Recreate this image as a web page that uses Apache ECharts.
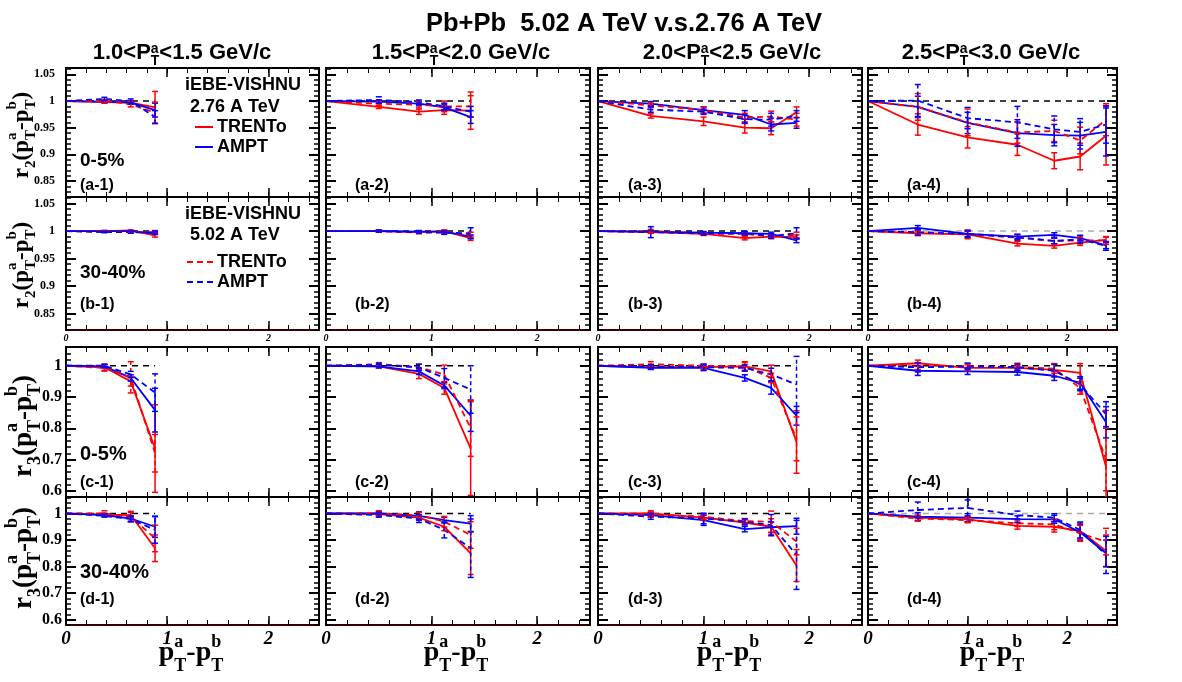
<!DOCTYPE html>
<html>
<head>
<meta charset="utf-8">
<script src="https://cdn.jsdelivr.net/npm/echarts@6/dist/echarts.min.js"></script>
<style>
  html, body { margin: 0; padding: 0; background: #fff; }
  #main { width: 1182px; height: 682px; }
</style>
</head>
<body>
<div id="main"></div>
<script>
// x positions (pT^a - pT^b) for each pT^a bin (columns)
const xCols = [
  [0, 0.38, 0.64, 0.88],
  [0, 0.5, 0.88, 1.12, 1.37],
  [0, 0.5, 1.0, 1.39, 1.64, 1.88],
  [0, 0.5, 1.0, 1.5, 1.87, 2.13, 2.39]
];
const ptBins = [['1.0', '1.5'], ['1.5', '2.0'], ['2.0', '2.5'], ['2.5', '3.0']];
const xTicks = [0, 1, 2];
const r2Ticks = [0.85, 0.9, 0.95, 1, 1.05];
const r3Ticks = [0.6, 0.7, 0.8, 0.9, 1];
const centralities = ['0-5%', '30-40%', '0-5%', '30-40%'];

// row a : r2, 0-5%
const a_trento276 = [[1, 0.998, 0.997, 0.988], [1, 0.989, 0.980, 0.983, 0.982], [1, 0.972, 0.962, 0.950, 0.949, 0.979], [1, 0.956, 0.932, 0.918, 0.888, 0.896, 0.935]];
const a_ampt276   = [[1, 0.999, 0.997, 0.983], [1, 0.999, 0.995, 0.988, 0.970], [1, 0.995, 0.983, 0.974, 0.956, 0.959], [1, 0.989, 0.959, 0.940, 0.936, 0.935, 0.942]];
const a_trento502 = [[1, 1.0, 0.994, 0.978], [1, 0.995, 0.993, 0.990, 0.990], [1, 0.992, 0.983, 0.969, 0.971, 0.965], [1, 0.989, 0.960, 0.941, 0.944, 0.926, 0.965]];
const a_ampt502   = [[1, 1.004, 1.0, 0.970], [1, 1.002, 0.998, 0.990, 0.980], [1, 0.984, 0.980, 0.966, 0.965, 0.972], [1, 1.001, 0.968, 0.960, 0.947, 0.942, 0.956]];
const a_trento276_err = [[0, 0.002, 0.003, 0.03], [0, 0.003, 0.005, 0.008, 0.035], [0, 0.004, 0.008, 0.01, 0.012, 0.01], [0, 0.02, 0.02, 0.02, 0.015, 0.025, 0.055]];
const a_ampt276_err   = [[0, 0.002, 0.003, 0.013], [0, 0.003, 0.004, 0.006, 0.012], [0, 0.004, 0.006, 0.008, 0.012, 0.01], [0, 0.02, 0.02, 0.025, 0.02, 0.025, 0.045]];
const a_trento502_err = [[0, 0.003, 0.005, 0.02], [0, 0.004, 0.006, 0.01, 0.02], [0, 0.004, 0.006, 0.008, 0.01, 0.012], [0, 0.025, 0.025, 0.02, 0.02, 0.025, 0.03]];
const a_ampt502_err   = [[0, 0.003, 0.004, 0.012], [0, 0.006, 0.004, 0.006, 0.01], [0, 0.005, 0.005, 0.008, 0.012, 0.01], [0, 0.03, 0.02, 0.03, 0.025, 0.025, 0.035]];

// row b : r2, 30-40%
const b_trento276 = [[1, 1.0, 1.001, 0.992], [1, 1.0, 0.998, 1.0, 0.987], [1, 0.998, 0.995, 0.987, 0.990, 0.989], [1, 0.996, 0.994, 0.977, 0.973, 0.979, 0.984]];
const b_ampt276   = [[1, 1.0, 1.0, 0.996], [1, 1.0, 0.999, 0.999, 0.990], [1, 0.999, 0.997, 0.996, 0.995, 0.983], [1, 1.006, 0.995, 0.990, 0.993, 0.987, 0.974]];
const b_trento502 = [[1, 0.999, 0.999, 0.998], [1, 1.0, 0.997, 0.998, 0.993], [1, 1.0, 0.995, 0.995, 0.990, 0.993], [1, 0.997, 0.994, 0.988, 0.982, 0.983, 0.983]];
const b_ampt502   = [[1, 0.998, 0.998, 0.997], [1, 1.0, 0.998, 0.997, 0.996], [1, 0.998, 0.996, 0.996, 0.991, 0.996], [1, 0.998, 0.995, 0.989, 0.982, 0.985, 0.973]];
const b_trento276_err = [[0, 0.001, 0.001, 0.003], [0, 0.001, 0.002, 0.002, 0.004], [0, 0.002, 0.002, 0.003, 0.003, 0.004], [0, 0.004, 0.006, 0.004, 0.004, 0.005, 0.005]];
const b_ampt276_err   = [[0, 0.001, 0.001, 0.002], [0, 0.001, 0.002, 0.002, 0.003], [0, 0.002, 0.002, 0.003, 0.003, 0.004], [0, 0.004, 0.005, 0.004, 0.004, 0.005, 0.006]];
const b_trento502_err = [[0, 0.001, 0.002, 0.003], [0, 0.002, 0.002, 0.003, 0.005], [0, 0.003, 0.003, 0.003, 0.004, 0.005], [0, 0.005, 0.008, 0.005, 0.005, 0.006, 0.007]];
const b_ampt502_err   = [[0, 0.001, 0.002, 0.003], [0, 0.002, 0.002, 0.003, 0.01], [0, 0.01, 0.003, 0.003, 0.004, 0.01], [0, 0.005, 0.006, 0.005, 0.005, 0.007, 0.008]];

// row c : r3, 0-5%
const c_trento276 = [[1, 0.995, 0.950, 0.735], [1, 0.998, 0.974, 0.929, 0.735], [1, 0.995, 0.996, 0.998, 0.982, 0.756], [1, 1.008, 0.993, 0.993, 0.987, 0.977, 0.677]];
const c_ampt276   = [[1, 0.998, 0.961, 0.858], [1, 0.998, 0.982, 0.937, 0.840], [1, 0.993, 0.993, 0.961, 0.929, 0.840], [1, 0.984, 0.982, 0.980, 0.968, 0.945, 0.819]];
const c_trento502 = [[1, 0.993, 0.963, 0.72], [1, 1.005, 0.995, 0.972, 0.80], [1, 1.005, 1.0, 0.998, 0.961, 0.766], [1, 0.998, 0.998, 0.996, 0.991, 0.929, 0.70]];
const c_ampt502   = [[1, 1.0, 0.972, 0.914], [1, 1.003, 0.995, 0.961, 0.924], [1, 0.998, 0.995, 0.993, 0.972, 0.940], [1, 0.995, 0.998, 0.995, 0.984, 0.940, 0.845]];
const c_trento276_err = [[0, 0.01, 0.015, 0.14], [0, 0.005, 0.015, 0.02, 0.15], [0, 0.005, 0.006, 0.015, 0.02, 0.1], [0, 0.01, 0.01, 0.008, 0.02, 0.03, 0.18]];
const c_ampt276_err   = [[0, 0.005, 0.01, 0.07], [0, 0.005, 0.01, 0.01, 0.05], [0, 0.005, 0.008, 0.01, 0.02, 0.03], [0, 0.015, 0.01, 0.01, 0.015, 0.02, 0.05]];
const c_trento502_err = [[0, 0.01, 0.05, 0.06], [0, 0.005, 0.01, 0.03, 0.09], [0, 0.008, 0.005, 0.012, 0.015, 0.07], [0, 0.01, 0.01, 0.012, 0.015, 0.02, 0.1]];
const c_ampt502_err   = [[0, 0.005, 0.01, 0.06], [0, 0.005, 0.01, 0.03, 0.076], [0, 0.005, 0.01, 0.01, 0.02, 0.09], [0, 0.015, 0.01, 0.01, 0.02, 0.02, 0.04]];

// row d : r3, 30-40%
const d_trento276 = [[1, 0.996, 0.994, 0.869], [1, 0.998, 0.984, 0.950, 0.850], [1, 1.0, 0.984, 0.966, 0.950, 0.804], [1, 0.984, 0.978, 0.953, 0.950, 0.934, 0.859]];
const d_ampt276   = [[1, 0.994, 0.981, 0.950], [1, 1.0, 0.991, 0.975, 0.962], [1, 0.994, 0.975, 0.941, 0.948, 0.952], [1, 0.988, 0.984, 0.979, 0.978, 0.929, 0.850]];
const d_trento502 = [[1, 1.0, 0.988, 0.906], [1, 1.0, 0.994, 0.969, 0.919], [1, 0.996, 0.988, 0.971, 0.969, 0.894], [1, 0.981, 0.975, 0.963, 0.959, 0.925, 0.894]];
const d_ampt502   = [[1, 0.991, 0.979, 0.938], [1, 0.994, 0.981, 0.938, 0.869], [1, 0.988, 0.981, 0.969, 0.956, 0.844], [1, 1.013, 1.021, 0.994, 0.984, 0.938, 0.844]];
const d_trento276_err = [[0, 0.005, 0.01, 0.05], [0, 0.006, 0.01, 0.015, 0.08], [0, 0.01, 0.01, 0.01, 0.03, 0.06], [0, 0.01, 0.01, 0.012, 0.02, 0.03, 0.06]];
const d_ampt276_err   = [[0, 0.005, 0.01, 0.04], [0, 0.008, 0.015, 0.01, 0.03], [0, 0.008, 0.02, 0.01, 0.02, 0.03], [0, 0.015, 0.015, 0.012, 0.015, 0.03, 0.05]];
const d_trento502_err = [[0, 0.01, 0.02, 0.05], [0, 0.01, 0.01, 0.02, 0.05], [0, 0.01, 0.01, 0.01, 0.04, 0.05], [0, 0.01, 0.01, 0.012, 0.02, 0.03, 0.05]];
const d_ampt502_err   = [[0, 0.005, 0.01, 0.05], [0, 0.008, 0.015, 0.03, 0.11], [0, 0.01, 0.02, 0.01, 0.04, 0.13], [0, 0.03, 0.03, 0.015, 0.015, 0.03, 0.07]];

const rowSeries = [
  [a_trento276, a_ampt276, a_trento502, a_ampt502],
  [b_trento276, b_ampt276, b_trento502, b_ampt502],
  [c_trento276, c_ampt276, c_trento502, c_ampt502],
  [d_trento276, d_ampt276, d_trento502, d_ampt502]
];
const rowErrors = [
  [a_trento276_err, a_ampt276_err, a_trento502_err, a_ampt502_err],
  [b_trento276_err, b_ampt276_err, b_trento502_err, b_ampt502_err],
  [c_trento276_err, c_ampt276_err, c_trento502_err, c_ampt502_err],
  [d_trento276_err, d_ampt276_err, d_trento502_err, d_ampt502_err]
];

// layout
const SANS = '"Liberation Sans", Arial, sans-serif';
const SERIF = '"Liberation Serif", "Times New Roman", serif';
const colLeft = [66, 326, 598, 868];
const colWidth = [253, 264, 264, 249];
const rowTop = [68, 197, 347, 497];
const rowHeight = [129, 133, 150, 128];
const yMin = [0.82, 0.82, 0.58, 0.58];
const yMax = [1.062, 1.062, 1.06, 1.062];
const minorStep = [0.01, 0.01, 0.02, 0.02];
const xMax = 2.5;
const styles = [
  { color: '#ff0000', dash: 'solid' },
  { color: '#0000ff', dash: 'solid' },
  { color: '#ff0000', dash: [6, 4] },
  { color: '#0000ff', dash: [6, 4] }
];

function errItem(st) {
  return function (params, api) {
    const p0 = api.coord([api.value(0), api.value(1)]);
    const p1 = api.coord([api.value(0), api.value(2)]);
    const dash = st.dash === 'solid' ? null : [4, 3];
    return {
      type: 'group',
      children: [
        { type: 'line', shape: { x1: p0[0], y1: p0[1], x2: p1[0], y2: p1[1] }, style: { stroke: st.color, lineWidth: 1.5, lineDash: dash } },
        { type: 'line', shape: { x1: p0[0] - 3, y1: p0[1], x2: p0[0] + 3, y2: p0[1] }, style: { stroke: st.color, lineWidth: 1.5 } },
        { type: 'line', shape: { x1: p1[0] - 3, y1: p1[1], x2: p1[0] + 3, y2: p1[1] }, style: { stroke: st.color, lineWidth: 1.5 } }
      ]
    };
  };
}

const grid = [], xAxis = [], yAxis = [], series = [];
for (let r = 0; r < 4; r++) {
  for (let c = 0; c < 4; c++) {
    const g = r * 4 + c;
    grid.push({ left: colLeft[c], top: rowTop[r], width: colWidth[c], height: rowHeight[r], show: true, borderColor: '#000', borderWidth: 2, backgroundColor: 'rgba(0,0,0,0)' });

    const showX = r === 1 || r === 3;
    const xLab = showX
      ? { show: true, customValues: xTicks, fontFamily: SERIF, fontWeight: 'bold', fontStyle: 'italic', fontSize: r === 1 ? 10 : 19, color: '#000', margin: r === 1 ? 3 : 5 }
      : { show: false };
    ['bottom', 'top'].forEach(function (pos) {
      xAxis.push({
        gridIndex: g, type: 'value', position: pos, min: 0, max: xMax,
        axisLine: { show: pos === 'bottom' && showX, onZero: false, lineStyle: { color: '#3a0000', width: 2 } },
        axisTick: { show: true, inside: true, length: 9, customValues: xTicks, lineStyle: { color: '#000', width: 1.5 } },
        axisLabel: pos === 'bottom' ? xLab : { show: false },
        splitLine: { show: false }
      });
      xAxis.push({
        gridIndex: g, type: 'value', position: pos, min: 0, max: xMax, interval: 0.2,
        axisLine: { show: false, onZero: false },
        axisTick: { show: true, inside: true, length: 5, lineStyle: { color: '#000', width: 1 } },
        axisLabel: { show: false }, splitLine: { show: false }
      });
    });

    const majors = r < 2 ? r2Ticks : r3Ticks;
    ['left', 'right'].forEach(function (pos) {
      yAxis.push({
        gridIndex: g, type: 'value', position: pos, min: yMin[r], max: yMax[r],
        axisLine: { show: false, onZero: false },
        axisTick: { show: true, inside: true, length: 10, customValues: majors, lineStyle: { color: '#000', width: 2 } },
        axisLabel: (pos === 'left' && c === 0)
          ? { show: true, customValues: majors, fontFamily: SERIF, fontWeight: 'bold', fontSize: r < 2 ? 12 : 16, color: '#000', margin: r < 2 ? 11 : 4 }
          : { show: false },
        splitLine: { show: false }
      });
      yAxis.push({
        gridIndex: g, type: 'value', position: pos, min: yMin[r], max: yMax[r], interval: minorStep[r],
        axisLine: { show: false, onZero: false },
        axisTick: { show: true, inside: true, length: 5, lineStyle: { color: '#000', width: 1.5 } },
        axisLabel: { show: false }, splitLine: { show: false }
      });
    });

    const xs = xCols[c];
    const last = xs[xs.length - 1];
    series.push({
      type: 'line', xAxisIndex: 4 * g, yAxisIndex: 4 * g, data: [[0, 1], [last, 1]],
      showSymbol: false, silent: true, z: 1,
      lineStyle: { color: (c === 3 && (r === 1 || r === 3)) ? '#aaaaaa' : '#000', width: 1.5, type: [6, 5] }
    });
    for (let k = 0; k < 4; k++) {
      const ys = rowSeries[r][k][c];
      const es = rowErrors[r][k][c];
      const st = styles[k];
      series.push({
        type: 'line', xAxisIndex: 4 * g, yAxisIndex: 4 * g,
        data: xs.map(function (x, i) { return [x, ys[i]]; }),
        showSymbol: false, silent: true, z: 3,
        lineStyle: { color: st.color, width: 1.8, type: st.dash }
      });
      series.push({
        type: 'custom', xAxisIndex: 4 * g, yAxisIndex: 4 * g, clip: true, silent: true, z: 4,
        encode: { x: 0, y: [1, 2] },
        data: xs.map(function (x, i) { return [x, ys[i] - es[i], ys[i] + es[i]]; }).filter(function (d, i) { return es[i] > 0; }),
        renderItem: errItem(st)
      });
    }
  }
}

// text helpers
const mctx = document.createElement('canvas').getContext('2d');
function textWidth(s, size, family, weight) {
  mctx.font = 'normal ' + weight + ' ' + size + 'px ' + family;
  return mctx.measureText(s).width;
}
function tstyle(s, size, family, weight, style) {
  return { text: s, fontSize: size, fontFamily: family, fontWeight: weight, fontStyle: style || 'normal', fill: '#000',
    textAlign: 'left', align: 'left', textVerticalAlign: 'middle', verticalAlign: 'middle' };
}
// text with stacked superscript / subscript (ROOT-like)
function mathText(parts, o) {
  const items = [];
  let cx = 0;
  parts.forEach(function (p) {
    items.push({ type: 'text', x: cx, y: 0, style: tstyle(p.t, o.size, o.family, 'bold') });
    cx += textWidth(p.t, o.size, o.family, 'bold');
    let ws = 0;
    if (p.sup) {
      items.push({ type: 'text', x: cx, y: o.supDy, style: tstyle(p.sup, o.small, o.family, 'bold') });
      ws = Math.max(ws, textWidth(p.sup, o.small, o.family, 'bold'));
    }
    if (p.sub) {
      items.push({ type: 'text', x: cx, y: o.subDy, style: tstyle(p.sub, o.small, o.family, 'bold') });
      ws = Math.max(ws, textWidth(p.sub, o.small, o.family, 'bold'));
    }
    cx += ws;
  });
  items.forEach(function (it) { it.x -= cx / 2; });
  return { type: 'group', x: o.x, y: o.y, rotation: o.rotation || 0, silent: true, children: items };
}

const gfx = [];
function txt(x, y, s, size) {
  gfx.push({ type: 'text', x: x, y: y, silent: true, style: tstyle(s, size, SANS, 'bold') });
}
function seg(x1, x2, y, color, dash) {
  gfx.push({ type: 'line', silent: true, shape: { x1: x1, y1: y, x2: x2, y2: y }, style: { stroke: color, lineWidth: 2, lineDash: dash || null } });
}

// main title
gfx.push({ type: 'text', x: 624, y: 24, silent: true, style: Object.assign(tstyle('Pb+Pb  5.02 A TeV v.s.2.76 A TeV', 25.5, SANS, 'bold'), { textAlign: 'center', align: 'center' }) });

// column headers
const headerX = [182, 461, 732, 991];
ptBins.forEach(function (b, c) {
  gfx.push(mathText([{ t: b[0] + '<P', sup: 'a', sub: 'T' }, { t: '<' + b[1] + ' GeV/c' }],
    { x: headerX[c], y: 53, size: 22, small: 14, family: SANS, supDy: -4, subDy: 8 }));
});

// y titles
const rowCenter = [135, 265, 426, 558];
rowCenter.forEach(function (yc, r) {
  const big = r >= 2;
  gfx.push(mathText(
    [{ t: 'r', sub: r < 2 ? '2' : '3' }, { t: '(p', sup: 'a', sub: 'T' }, { t: '-p', sup: 'b', sub: 'T' }, { t: ')' }],
    { x: big ? 24 : 22, y: yc, size: big ? 27 : 23, small: big ? 18 : 15, family: SERIF, rotation: Math.PI / 2, supDy: big ? -12 : -10, subDy: big ? 11 : 9 }));
});

// x titles
[191, 456, 729, 992].forEach(function (xc) {
  gfx.push(mathText([{ t: 'p', sup: 'a', sub: 'T' }, { t: '-p', sup: 'b', sub: 'T' }],
    { x: xc, y: 653, size: 28, small: 18, family: SERIF, supDy: -11, subDy: 13 }));
});

// panel tags and centrality labels
const tagX = [80, 355, 628, 907];
const tagY = [186, 305, 483, 600];
['a', 'b', 'c', 'd'].forEach(function (L, r) {
  for (let c = 0; c < 4; c++) txt(tagX[c], tagY[r], '(' + L + '-' + (c + 1) + ')', 16);
});
txt(80, 161, centralities[0], 19);
txt(80, 273, centralities[1], 19);
txt(80, 454, centralities[2], 20);
txt(80, 572, centralities[3], 20);

// legends
txt(185, 85, 'iEBE-VISHNU', 18);
txt(190, 107, '2.76 A TeV', 18);
seg(195, 213, 127, '#ff0000');
txt(217, 127, 'TRENTo', 18);
seg(195, 213, 147, '#0000ff');
txt(217, 147, 'AMPT', 18);

txt(185, 214, 'iEBE-VISHNU', 18);
txt(190, 235, '5.02 A TeV', 18);
seg(187, 213, 262, '#ff0000', [6, 4]);
txt(217, 262, 'TRENTo', 18);
seg(187, 213, 282, '#0000ff', [6, 4]);
txt(217, 282, 'AMPT', 18);

const chart = echarts.init(document.getElementById('main'));
chart.setOption({
  animation: false,
  backgroundColor: '#fff',
  grid: grid,
  xAxis: xAxis,
  yAxis: yAxis,
  series: series,
  graphic: { elements: gfx }
});
</script>
</body>
</html>
